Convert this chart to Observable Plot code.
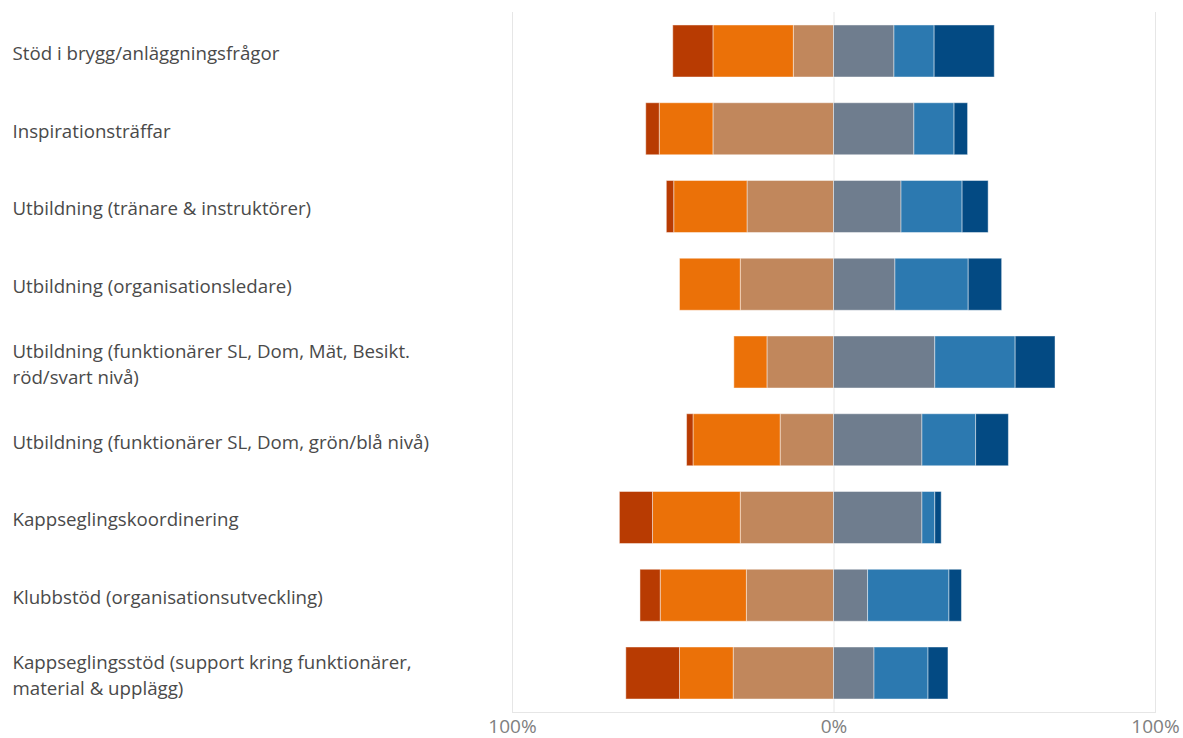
<!DOCTYPE html>
<html>
<head>
<meta charset="utf-8">
<script src="https://cdn.jsdelivr.net/npm/d3@7"></script>
<script src="https://cdn.jsdelivr.net/npm/@observablehq/plot@0.6"></script>
<style>
  html, body { margin: 0; padding: 0; background: #fff; }
  #chart { width: 1183px; height: 738px; }
</style>
</head>
<body>
<div id="chart"></div>
<script>
// Categories (top to bottom)
const categories = [
  "Stöd i brygg/anläggningsfrågor",
  "Inspirationsträffar",
  "Utbildning (tränare & instruktörer)",
  "Utbildning (organisationsledare)",
  "Utbildning (funktionärer SL, Dom, Mät, Besikt.\nröd/svart nivå)",
  "Utbildning (funktionärer SL, Dom, grön/blå nivå)",
  "Kappseglingskoordinering",
  "Klubbstöd (organisationsutveckling)",
  "Kappseglingsstöd (support kring funktionärer,\nmaterial & upplägg)"
];

// Response levels, listed from the centre outward on each side
const negativeLevels = ["Ganska dåligt", "Dåligt", "Mycket dåligt"];
const positiveLevels = ["Ganska bra", "Bra", "Mycket bra"];
const levelColors = ["#C1875C", "#EB7108", "#B83B02", "#6F7D8E", "#2C79B0", "#034A83"];

// Shares in percent, per category (same order as categories)
const gansaDaligt = [12.5, 37.5, 26.9, 29.0, 20.7, 16.6, 29.0, 27.1, 31.2];
const daligt      = [25.0, 16.7, 22.8, 18.9, 10.3, 27.1, 27.3, 26.8, 16.7];
const mycketDaligt= [12.5,  4.2,  2.3,  0.0,  0.0,  2.0, 10.3,  6.3, 16.7];
const gansaBra    = [18.8, 25.0, 21.0, 19.1, 31.5, 27.5, 27.5, 10.6, 12.6];
const bra         = [12.5, 12.5, 19.0, 22.8, 25.0, 16.7,  4.0, 25.3, 16.8];
const mycketBra   = [18.7,  4.2,  8.1, 10.4, 12.4, 10.2,  2.0,  3.9,  6.2];

const tickValues = [-100, 0, 100];

const series = [
  [negativeLevels[0], gansaDaligt, -1],
  [negativeLevels[1], daligt, -1],
  [negativeLevels[2], mycketDaligt, -1],
  [positiveLevels[0], gansaBra, 1],
  [positiveLevels[1], bra, 1],
  [positiveLevels[2], mycketBra, 1]
];
const levels = series.map(s => s[0]);

const data = [];
for (const [level, values, sign] of series) {
  categories.forEach((c, i) => {
    data.push({category: c, level, value: sign * values[i]});
  });
}

const chart = Plot.plot({
  width: 1183,
  height: 738,
  marginLeft: 512,
  marginRight: 28,
  marginTop: 12,
  marginBottom: 26,
  style: {fontFamily: "'Open Sans', sans-serif", background: "#fff"},
  x: {domain: [-100, 100], axis: null},
  y: {domain: categories, axis: null, paddingInner: 0.331, paddingOuter: 0.167, round: false},
  color: {domain: levels, range: levelColors},
  marks: [
    Plot.ruleX(tickValues, {stroke: "#e6e6e6", strokeWidth: 1}),
    Plot.frame({anchor: "bottom", stroke: "#e6e6e6"}),
    Plot.barX(data, Plot.stackX({
      x: "value",
      y: "category",
      z: "level",
      fill: "level",
      stroke: "#ffffff",
      strokeOpacity: 0.45,
      strokeWidth: 1,
      order: levels
    })),
    Plot.text(categories, {
      y: d => d,
      text: d => d,
      frameAnchor: "left",
      dx: -500,
      textAnchor: "start",
      fontSize: 18.7,
      lineHeight: 1.4,
      fill: "#4a4a4a"
    }),
    Plot.text(tickValues, {
      x: d => d,
      text: d => Math.abs(d) + "%",
      frameAnchor: "bottom",
      dy: 20,
      fontSize: 19,
      fill: "#808080"
    })
  ]
});
document.getElementById("chart").appendChild(chart);
</script>
</body>
</html>
